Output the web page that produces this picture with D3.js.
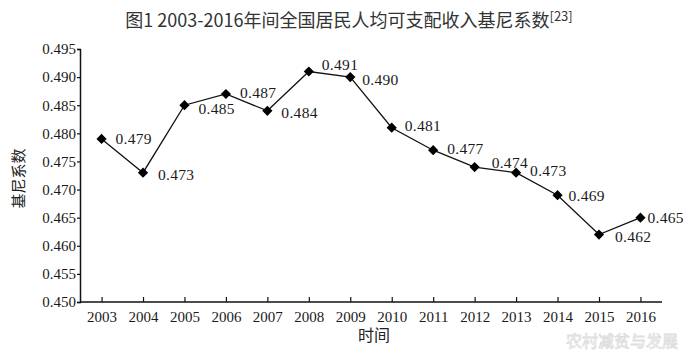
<!DOCTYPE html>
<html>
<head>
<meta charset="utf-8">
<script src="https://cdn.jsdelivr.net/npm/d3@7"></script>
<style>
  body { margin: 0; background: #fff; }
  svg { display: block; }
  .cjk { font-family: "Noto Sans CJK SC", sans-serif; fill: #222; }
</style>
</head>
<body>
<div id="chart"></div>
<script>
const YEARS = ["2003", "2004", "2005", "2006", "2007", "2008", "2009",
               "2010", "2011", "2012", "2013", "2014", "2015", "2016"];
const GINI = [0.479, 0.473, 0.485, 0.487, 0.484, 0.491, 0.490,
              0.481, 0.477, 0.474, 0.473, 0.469, 0.462, 0.465];
const Y_TICKS = [0.450, 0.455, 0.460, 0.465, 0.470, 0.475, 0.480, 0.485, 0.490, 0.495];

const WIDTH = 698;
const HEIGHT = 354;
const PLOT = { left: 80, right: 662, top: 49, bottom: 302 };
const SERIF = '"Liberation Serif", "DejaVu Serif", serif';

// label nudges (px) so value labels sit clear of the line, as in the print
const LABEL_NUDGE = {
  "2004": [15, 2], "2005": [14, 3], "2006": [14, -1], "2007": [14, 2],
  "2008": [13, -7], "2009": [12, 2], "2010": [13, -2], "2011": [14, -2],
  "2012": [17, -4], "2013": [14, -2], "2014": [11, 0], "2015": [16, 2],
  "2016": [7, 0],
};

const svg = d3.select("#chart")
  .append("svg")
  .attr("width", WIDTH)
  .attr("height", HEIGHT)
  .attr("viewBox", `0 0 ${WIDTH} ${HEIGHT}`);

const x = d3.scalePoint().domain(YEARS).range([PLOT.left, PLOT.right]).padding(0.52);
const y = d3.scaleLinear().domain([0.45, 0.495]).range([PLOT.bottom, PLOT.top]);

// —— Title ——
const title = svg.append("text")
  .attr("class", "cjk")
  .attr("x", 349)
  .attr("y", 27)
  .attr("text-anchor", "middle")
  .style("font-size", "18px")
  .style("fill", "#333");
title.append("tspan").text("图1 2003-2016年间全国居民人均可支配收入基尼系数");
title.append("tspan").attr("dy", -6).style("font-size", "13px").text("[23]");

// —— Axes ——
function styleAxis(g) {
  g.attr("font-family", SERIF).attr("font-size", 15);
  g.select(".domain").attr("stroke", "#111").attr("stroke-width", 1.5);
  g.selectAll(".tick line").attr("stroke", "#111").attr("stroke-width", 1.2);
  g.selectAll(".tick text").attr("fill", "#1a1a1a");
}

const yAxis = svg.append("g")
  .attr("transform", `translate(${PLOT.left},0)`)
  .call(d3.axisLeft(y).tickValues(Y_TICKS).tickSize(3).tickPadding(1).tickFormat(d3.format(".3f")));
styleAxis(yAxis);

const xAxis = svg.append("g")
  .attr("transform", `translate(0,${PLOT.bottom})`)
  .call(d3.axisBottom(x).tickSize(-5).tickSizeOuter(0).tickPadding(9));
styleAxis(xAxis);
xAxis.select(".domain").attr("d", `M${PLOT.left},0H${PLOT.right}`);

svg.append("text")
  .attr("class", "cjk")
  .attr("transform", `translate(24,${(PLOT.top + PLOT.bottom) / 2 + 3}) rotate(-90)`)
  .attr("text-anchor", "middle")
  .style("font-size", "15px")
  .text("基尼系数");

svg.append("text")
  .attr("class", "cjk")
  .attr("x", 374)
  .attr("y", 341)
  .attr("text-anchor", "middle")
  .style("font-size", "16px")
  .text("时间");

// —— Line and markers ——
const series = YEARS.map((yr, i) => ({ year: yr, value: GINI[i] }));

svg.append("path")
  .datum(series)
  .attr("fill", "none")
  .attr("stroke", "#111")
  .attr("stroke-width", 1.3)
  .attr("d", d3.line().x((d) => x(d.year)).y((d) => y(d.value)));

svg.selectAll(".marker")
  .data(series)
  .join("path")
  .attr("class", "marker")
  .attr("d", d3.symbol(d3.symbolSquare, 52))
  .attr("transform", (d) => `translate(${x(d.year)},${y(d.value)}) rotate(45)`)
  .attr("fill", "#000");

svg.selectAll(".point-label")
  .data(series)
  .join("text")
  .attr("class", "point-label")
  .attr("font-family", SERIF)
  .attr("font-size", 15.5)
  .attr("letter-spacing", 0.3)
  .attr("fill", "#1a1a1a")
  .attr("x", (d) => x(d.year) + (LABEL_NUDGE[d.year] || [14, 0])[0])
  .attr("y", (d) => y(d.value) + (LABEL_NUDGE[d.year] || [14, 0])[1])
  .attr("dy", "0.35em")
  .text((d) => d3.format(".3f")(d.value));

// —— faint watermark ——
svg.append("text")
  .attr("class", "cjk")
  .attr("x", 566)
  .attr("y", 347)
  .style("font-size", "16px")
  .style("fill", "none")
  .style("stroke", "#dcdcdc")
  .style("stroke-width", 0.8)
  .text("农村减贫与发展");
</script>
</body>
</html>
